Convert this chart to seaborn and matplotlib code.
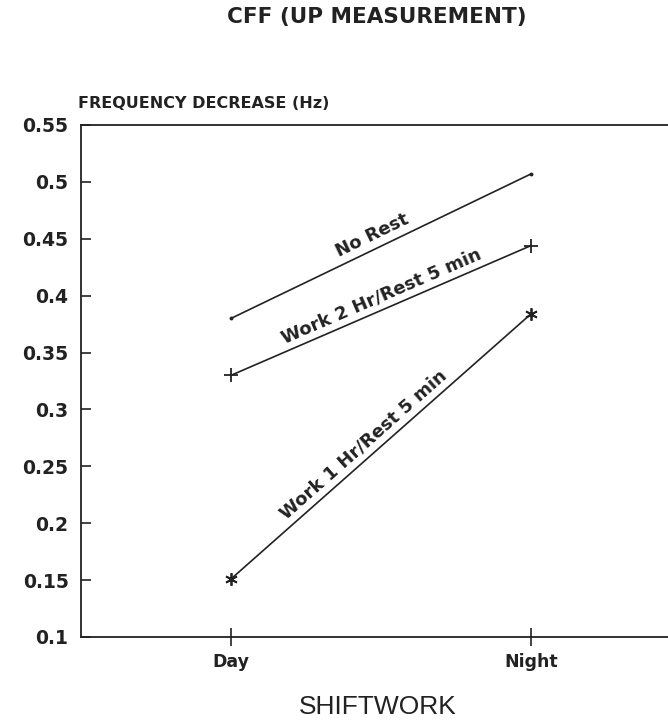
import seaborn as sns
import pandas as pd
import numpy as np
from matplotlib import pyplot as plt

shifts = ['Day', 'Night']
no_rest = [0.380, 0.507]
work_2hr = [0.330, 0.444]
work_1hr = [0.151, 0.384]
labels = ['No Rest', 'Work 2 Hr/Rest 5 min', 'Work 1 Hr/Rest 5 min']
y_ticks = [0.1, 0.15, 0.2, 0.25, 0.3, 0.35, 0.4, 0.45, 0.5, 0.55]
y_tick_labels = ['0.1', '0.15', '0.2', '0.25', '0.3', '0.35', '0.4', '0.45', '0.5', '0.55']

sns.set_style('ticks')
plt.rcParams['font.family'] = ['DejaVu Sans']
ink = '#222222'

df = pd.DataFrame({
    'shift': shifts * 3,
    'value': no_rest + work_2hr + work_1hr,
    'series': [labels[0]] * 2 + [labels[1]] * 2 + [labels[2]] * 2,
})

fig = plt.figure(figsize=(6.68, 7.28), dpi=100)
ax = fig.add_axes([81 / 668, 91 / 728, 600 / 668, 512 / 728])

markers = {labels[0]: '.', labels[1]: '+', labels[2]: (6, 2, 0)}
sizes = {labels[0]: 3, labels[1]: 10, labels[2]: 9}
for name in labels:
    sub = df[df['series'] == name]
    sns.lineplot(data=sub, x='shift', y='value', ax=ax, color=ink,
                 linewidth=1.2, marker=markers[name], markersize=sizes[name],
                 markeredgewidth=1.3, markeredgecolor=ink, markerfacecolor=ink,
                 legend=False)

ax.set_xlim(-0.5, 1.5)
ax.set_ylim(0.1, 0.55)
ax.set_yticks(y_ticks)
ax.set_yticklabels(y_tick_labels, fontsize=13.5, fontweight='bold')
ax.set_xticks([0, 1])
ax.set_xticklabels(shifts, fontsize=12.5, fontweight='bold')
ax.tick_params(axis='y', direction='in', length=7, width=1.2, pad=9, colors=ink)
ax.tick_params(axis='x', direction='inout', length=13, width=1.2, pad=5, colors=ink)
for s in ax.spines.values():
    s.set_linewidth(1.3)
    s.set_color(ink)
ax.set_xlabel('')
ax.set_ylabel('')

# labels along the lines
fig.canvas.draw()
series_vals = [no_rest, work_2hr, work_1hr]
fracs = [0.49, 0.52, 0.47]
for name, vals, t in zip(labels, series_vals, fracs):
    p0 = ax.transData.transform((0, vals[0]))
    p1 = ax.transData.transform((1, vals[1]))
    ang = np.degrees(np.arctan2(p1[1] - p0[1], p1[0] - p0[0]))
    ym = vals[0] + (vals[1] - vals[0]) * t
    off = 3
    nx, ny = -np.sin(np.radians(ang)) * off, np.cos(np.radians(ang)) * off
    ax.annotate(name, (t, ym), xytext=(nx, ny), textcoords='offset points',
                rotation=ang, rotation_mode='anchor', ha='center', va='bottom',
                fontsize=13, fontweight='bold', color=ink)

fig.text(377 / 668, 1 - 17 / 728, 'CFF (UP MEASUREMENT)', ha='center', va='center',
         fontsize=15.5, fontweight='bold', color=ink)
fig.text(78 / 668, 1 - 103 / 728, 'FREQUENCY DECREASE (Hz)', ha='left', va='center',
         fontsize=11.5, fontweight='bold', color=ink)
fig.text(378 / 668, 1 - 707 / 728, 'SHIFTWORK', ha='center', va='center',
         fontsize=19, color=ink, family='Liberation Sans')

fig.savefig('out.png', dpi=100)
